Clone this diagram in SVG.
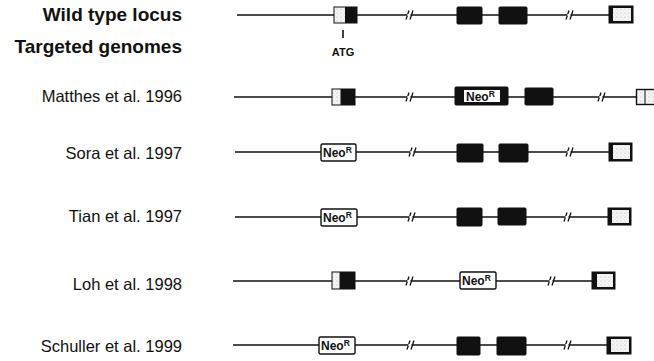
<svg xmlns="http://www.w3.org/2000/svg" width="654" height="361" viewBox="0 0 654 361">
<defs>
<pattern id="stip" width="4" height="4" patternUnits="userSpaceOnUse">
<rect width="4" height="4" fill="#f4f4f4"/>
<circle cx="1" cy="1" r="0.5" fill="#aaa"/>
<circle cx="3" cy="3" r="0.4" fill="#ccc"/>
</pattern>
<g id="brk"><path d="M-4,4.5 L-1,-4.5 M0,4.5 L3,-4.5" fill="none" stroke="#111" stroke-width="1.3"/><rect x="-2.6" y="-1" width="3" height="2" fill="#fff"/></g>
</defs>
<style>
.hd{font-family:"Liberation Sans",Arial,sans-serif;font-weight:bold;font-size:19px;fill:#111;text-anchor:end}
.lb{font-family:"Liberation Sans",Arial,sans-serif;font-size:16.5px;fill:#111;text-anchor:end}
.ln{stroke:#111;stroke-width:1.3;fill:none}
.ex{fill:#111;stroke:#111;stroke-width:1}
.neo{fill:#fff;stroke:#111;stroke-width:1.4}
.nt{font-family:"Liberation Sans",Arial,sans-serif;font-size:12px;font-weight:bold;fill:#111}
.ns{font-size:8.5px}
.atg{font-family:"Liberation Sans",Arial,sans-serif;font-size:11px;font-weight:bold;fill:#111;text-anchor:middle}
</style>
<rect width="654" height="361" fill="#fff"/>

<g id="labels">
<text class="hd" x="182" y="21">Wild type locus</text>
<text class="hd" x="182" y="53">Targeted genomes</text>
<text class="lb" x="182" y="102">Matthes et al. 1996</text>
<text class="lb" x="182" y="159">Sora et al. 1997</text>
<text class="lb" x="182" y="222">Tian et al. 1997</text>
<text class="lb" x="182" y="290">Loh et al. 1998</text>
<text class="lb" x="182" y="352">Schuller et al. 1999</text>
</g>

<g id="connectors">
<line class="ln" x1="237" y1="15" x2="609" y2="15"/>
<line class="ln" x1="234" y1="97" x2="640" y2="97"/>
<line class="ln" x1="235" y1="152" x2="609" y2="152"/>
<line class="ln" x1="235" y1="217" x2="608" y2="217"/>
<line class="ln" x1="233" y1="281" x2="592" y2="281"/>
<line class="ln" x1="233" y1="345" x2="607" y2="345"/>
</g>

<g id="wildtype">
<rect x="334" y="7" width="23" height="16" class="ex"/>
<rect x="334.5" y="7.5" width="10.5" height="15" fill="url(#stip)"/>
<line x1="343" y1="30" x2="343" y2="38" stroke="#111" stroke-width="1.6"/>
<text class="atg" x="343" y="56">ATG</text>
<use href="#brk" x="410" y="15"/>
<rect x="457" y="7" width="25" height="17" rx="1" class="ex"/>
<rect x="499" y="7" width="28" height="17" rx="1" class="ex"/>
<use href="#brk" x="570" y="15"/>
<rect x="609" y="6" width="24" height="17" class="ex"/>
<rect x="613" y="8" width="18" height="13" fill="url(#stip)"/>
</g>

<g id="matthes">
<rect x="332" y="89" width="23" height="16" class="ex"/>
<rect x="332.5" y="89.5" width="8" height="15" fill="url(#stip)"/>
<use href="#brk" x="410" y="97"/>
<rect x="455" y="87" width="53" height="18" rx="1" class="ex"/>
<rect x="464" y="90" width="36" height="12" fill="#fff"/>
<text class="nt" x="466" y="101">Neo<tspan class="ns" dy="-4">R</tspan></text>
<rect x="525" y="88" width="28" height="17" rx="1" class="ex"/>
<use href="#brk" x="602" y="97"/>
<rect x="636.5" y="89.5" width="20" height="15" fill="url(#stip)" stroke="#111" stroke-width="1.4"/>
<line x1="645" y1="89" x2="645" y2="105" stroke="#111" stroke-width="1"/>
</g>

<g id="sora">
<rect x="321" y="144" width="35" height="17" rx="1.5" class="neo"/>
<text class="nt" x="323" y="157">Neo<tspan class="ns" dy="-4">R</tspan></text>
<use href="#brk" x="413" y="152"/>
<rect x="457" y="144" width="26" height="18" rx="1" class="ex"/>
<rect x="499" y="144" width="29" height="18" rx="1" class="ex"/>
<use href="#brk" x="570" y="152"/>
<rect x="609" y="143" width="23" height="18" class="ex"/>
<rect x="613" y="145" width="17" height="14" fill="url(#stip)"/>
</g>

<g id="tian">
<rect x="321" y="209" width="36" height="17" rx="1.5" class="neo"/>
<text class="nt" x="323" y="222">Neo<tspan class="ns" dy="-4">R</tspan></text>
<use href="#brk" x="412" y="217"/>
<rect x="457" y="208" width="25" height="18" rx="1" class="ex"/>
<rect x="498" y="208" width="28" height="17" rx="1" class="ex"/>
<use href="#brk" x="568" y="217"/>
<rect x="608" y="208" width="23" height="17" class="ex"/>
<rect x="612" y="210" width="17" height="13" fill="url(#stip)"/>
</g>

<g id="loh">
<rect x="332" y="272" width="23" height="17" class="ex"/>
<rect x="332.5" y="272.5" width="7" height="16" fill="url(#stip)"/>
<use href="#brk" x="410" y="281"/>
<rect x="460" y="272" width="36" height="17" rx="1.5" class="neo"/>
<text class="nt" x="462" y="285">Neo<tspan class="ns" dy="-4">R</tspan></text>
<use href="#brk" x="552" y="281"/>
<rect x="592" y="272" width="23" height="17" class="ex"/>
<rect x="597" y="274" width="16" height="13" fill="url(#stip)"/>
</g>

<g id="schuller">
<rect x="319" y="337" width="36" height="17" rx="1.5" class="neo"/>
<text class="nt" x="321" y="350">Neo<tspan class="ns" dy="-4">R</tspan></text>
<use href="#brk" x="411" y="345"/>
<rect x="457" y="337" width="23" height="18" rx="1" class="ex"/>
<rect x="497" y="337" width="29" height="18" rx="1" class="ex"/>
<use href="#brk" x="568" y="345"/>
<rect x="607" y="337" width="24" height="17" class="ex"/>
<rect x="611" y="339" width="18" height="13" fill="url(#stip)"/>
</g>
</svg>
